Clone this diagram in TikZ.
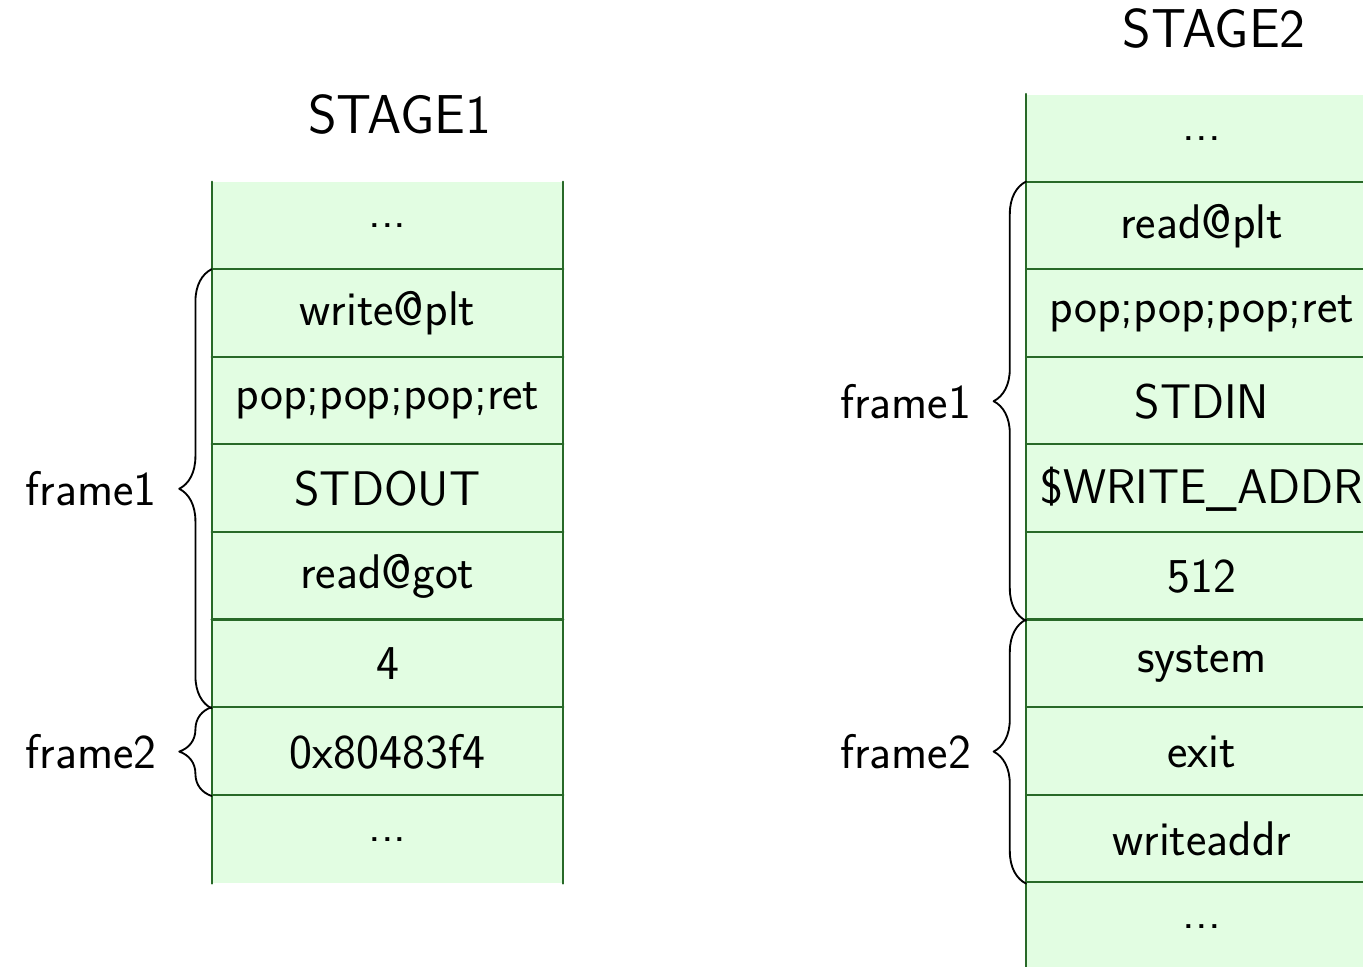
\documentclass[tikz,border=0pt]{standalone}
\usetikzlibrary{decorations.pathreplacing}
\definecolor{cellfill}{RGB}{226,253,226}
\definecolor{cellline}{RGB}{40,105,40}
\newcommand{\celldots}{.{}.{}.}

\begin{document}
\begin{tikzpicture}[font=\sffamily\fontsize{15.8}{19}\selectfont, line cap=round, line join=round,
	cell/.style={fill=cellfill, minimum width=4cm, minimum height=1cm, inner sep=0pt},
	sepline/.style={cellline, line width=0.7pt},
	stagetitle/.style={font=\sffamily\fontsize{17.8}{21}\selectfont},
	framebrace/.style={decorate, decoration={brace, amplitude=0.37cm}, semithick}]
	
	\useasboundingbox (0,0) rectangle (15.56,-11.03);
	
	% ===== Left: stack for stage 1 =====
	\begin{scope}[shift={(4.423,-2.58)}]
		\node[stagetitle] (t1) at (0.14,1.27) {STAGE1};
		% cells, top to bottom
		\foreach \txt [count=\i from 0] in {\celldots, write@plt, {pop;pop;pop;ret}, STDOUT, read@got, 4, 0x80483f4, \celldots}
			\node[cell] (a\i) at (0,-\i) {\txt};
		% sides and separators
		\draw[sepline] (a0.north west) -- (a7.south west);
		\draw[sepline] (a0.north east) -- (a7.south east);
		\foreach \i in {1,...,7}
			\draw[sepline] (a\i.north west) -- (a\i.north east);
		% frames
		\draw[framebrace] (a5.south west) -- (a1.north west)
			node[midway, left=0.5cm] (f1) {frame1};
		\draw[framebrace] (a6.south west) -- (a6.north west)
			node[midway, left=0.5cm] (f2) {frame2};
	\end{scope}
	
	% ===== Right: stack for stage 2 =====
	\begin{scope}[shift={(13.72,-1.58)}]
		\node[stagetitle] (t2) at (0.14,1.25) {STAGE2};
		\foreach \txt [count=\i from 0] in {\celldots, read@plt, {pop;pop;pop;ret}, STDIN, \$WRITE\_ADDR, 512, system, exit, writeaddr, \celldots}
			\node[cell] (b\i) at (0,-\i) {\txt};
		\draw[sepline] (b0.north west) -- (b9.south west);
		\draw[sepline] (b0.north east) -- (b9.south east);
		\foreach \i in {1,...,9}
			\draw[sepline] (b\i.north west) -- (b\i.north east);
		\draw[framebrace] (b5.south west) -- (b1.north west)
			node[midway, left=0.5cm] (g1) {frame1};
		\draw[framebrace] (b8.south west) -- (b6.north west)
			node[midway, left=0.5cm] (g2) {frame2};
	\end{scope}
	
\end{tikzpicture}
\end{document}
